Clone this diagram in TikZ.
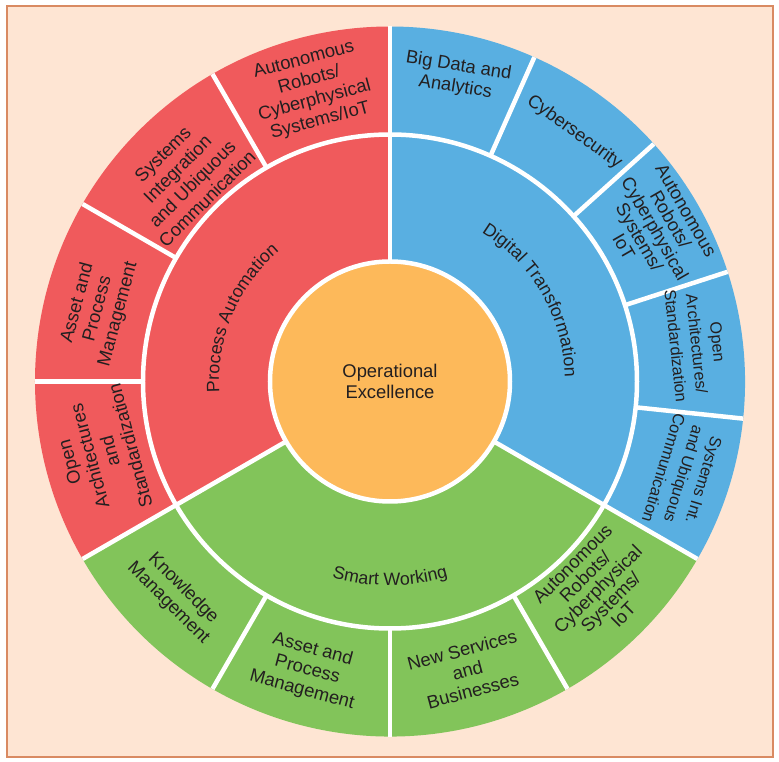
\documentclass[tikz,border=0pt]{standalone}
\usepackage{fontspec}
\setmainfont{Liberation Sans}
\usetikzlibrary{decorations.text}

\definecolor{paRed}{HTML}{F05A5C}
\definecolor{dtBlue}{HTML}{59AFE1}
\definecolor{swGreen}{HTML}{82C45A}
\definecolor{oeOrange}{HTML}{FDB95A}
\definecolor{bgPeach}{HTML}{FEE5D3}
\definecolor{frameBrown}{HTML}{D98A62}
\definecolor{txt}{HTML}{231F20}

\newcommand{\lblfont}{\fontsize{18.4}{21}\selectfont}
\newcommand{\arcfont}{\fontsize{17.8}{21}\selectfont}

\begin{document}
\begin{tikzpicture}[x=1pt,y=1pt,
  ring label/.style={align=center,font=\lblfont,text=txt,inner sep=0pt},
  tight label/.style={ring label,font=\fontsize{18.4}{18}\selectfont},
  narrow label/.style={ring label,font=\fontsize{16.3}{21}\selectfont},
  gap/.style={white,line width=4.5pt},
  arc label/.style={decorate,decoration={text along path,text align=center,
    text color=txt,text={|\arcfont|#1}}}]

  \useasboundingbox (-390,-380.5) rectangle (389,381.5);
  \fill[white] (-390,-380.5) rectangle (389,381.5);
  \draw[frameBrown,fill=bgPeach,line width=2pt] (-383,-375.5) rectangle (383,375.5);

  % three big sectors
  \fill[paRed] (0,0) -- (90:355) arc[start angle=90,end angle=210,radius=355] -- cycle;
  \fill[swGreen] (0,0) -- (210:355) arc[start angle=210,end angle=330,radius=355] -- cycle;
  \fill[dtBlue] (0,0) -- (330:355) arc[start angle=330,end angle=450,radius=355] -- cycle;

  % white gaps
  \foreach \a in {90,210,330} \draw[gap] (\a:120) -- (\a:355);
  \foreach \a in {120,150,180,240,270,300,66,42,18,-6} \draw[gap] (\a:247) -- (\a:355);
  \draw[gap] (0,0) circle[radius=247];

  \node[ring label,circle,fill=oeOrange,draw=white,line width=4.5pt,minimum size=240pt] (oe) at (0,0) {Operational\\Excellence};

  \path[arc label=Process Automation] (207:171) arc[start angle=207,end angle=107,radius=171];
  \path[arc label=Digital Transformation] (80:175) arc[start angle=80,end angle=-20,radius=175];
  \path[arc label=Smart Working] (220:204) arc[start angle=220,end angle=320,radius=204];

  \node[ring label,rotate=15] (pa-robots) at (105:301) {Autonomous\\Robots/\\Cyberphysical\\Systems/IoT};
  \node[ring label,rotate=45] (pa-sysint) at (135:290) {Systems\\Integration\\and Ubiquous\\Communication};
  \node[ring label,rotate=75] (pa-asset) at (166:301) {Asset and\\Process\\Management};
  \node[ring label,rotate=105] (pa-open) at (194:299) {Open\\Architectures\\and\\Standardization};

  \node[ring label,rotate=-9] (dt-bigdata) at (77.6:312) {Big Data and\\Analytics};
  \node[ring label,rotate=-36] (dt-cyber) at (53.5:310) {Cybersecurity};
  \node[tight label,rotate=-60] (dt-robots) at (30:306) {Autonomous\\Robots/\\Cyberphysical\\Systems/\\IoT};
  \node[narrow label,rotate=-84] (dt-open) at (7:309) {Open\\Architectures/\\Standardization};
  \node[narrow label,rotate=-107] (dt-sysint) at (-17.5:308) {Systems Int.\\and Ubiquous\\Communication};

  \node[ring label,rotate=-45] (sw-knowledge) at (225:303) {Knowledge\\Management};
  \node[ring label,rotate=-15] (sw-asset) at (254:300) {Asset and\\Process\\Management};
  \node[ring label,rotate=15] (sw-services) at (285:299) {New Services\\and\\Businesses};
  \node[tight label,rotate=45] (sw-robots) at (315:294) {Autonomous\\Robots/\\Cyberphysical\\Systems/\\IoT};
\end{tikzpicture}
\end{document}
